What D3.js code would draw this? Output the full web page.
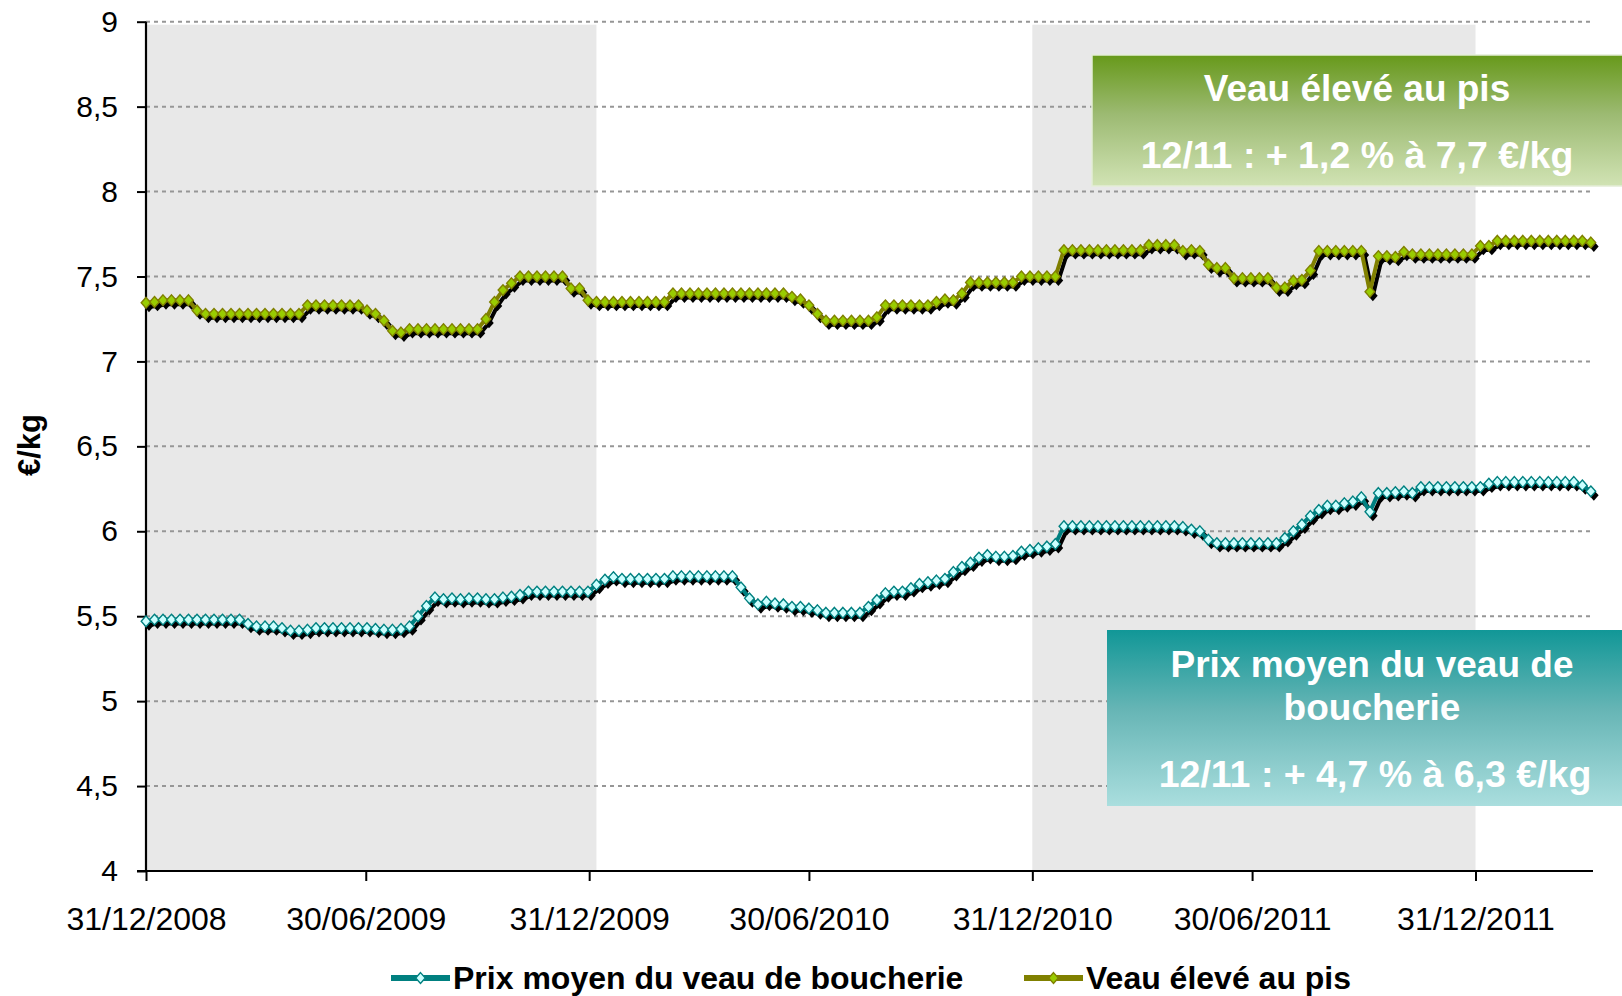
<!DOCTYPE html>
<html><head><meta charset="utf-8">
<script src="https://cdn.jsdelivr.net/npm/d3@7"></script>
<style>
body{margin:0;background:#fff;}
svg{display:block;font-family:"Liberation Sans",Arial,sans-serif;}
</style>
</head><body>
<svg id="chart" width="1622" height="996"></svg>
<script>
// ---------------- DATA ----------------
const firstWeek = "2008-12-31";          // weekly observations start here
const xTickDates = ["2008-12-31","2009-06-30","2009-12-31","2010-06-30","2010-12-31","2011-06-30","2011-12-31"];
const xTickLabels = ["31/12/2008","30/06/2009","31/12/2009","30/06/2010","31/12/2010","30/06/2011","31/12/2011"];
const yTicks = [4,4.5,5,5.5,6,6.5,7,7.5,8,8.5,9];
const yTickLabels = ["4","4,5","5","5,5","6","6,5","7","7,5","8","8,5","9"];
const yTitle = "€/kg";
const bandRanges = [["2008-12-31","2010-01-06"],["2010-12-31","2011-12-31"]];
const seriesNames = ["Prix moyen du veau de boucherie","Veau élevé au pis"];

const prixMoyen = [
 5.47,5.48,5.48,5.48,5.48,5.48,5.48,5.48,5.48,5.48,5.48,5.48,
 5.455,5.44,5.44,5.44,5.43,5.415,5.415,5.42,
 5.43,5.43,5.43,5.43,5.43,5.43,5.43,
 5.425,5.42,5.42,5.425,5.44,5.50,5.56,5.61,5.60,5.605,5.60,5.605,5.605,5.60,5.60,5.61,5.615,5.625,
 5.645,5.645,5.645,5.645,5.645,5.645,5.645,5.645,
 5.685,5.715,5.73,
 5.72,5.72,5.72,5.72,5.72,5.72,
 5.735,5.735,5.735,5.735,5.735,5.735,5.735,5.735,
 5.67,5.605,5.57,5.585,5.575,5.57,5.555,5.555,5.545,5.535,5.52,
 5.52,5.52,5.52,5.52,
 5.555,5.595,5.635,5.645,5.645,5.665,5.69,5.70,5.71,5.72,5.76,5.79,5.815,5.845,5.86,5.85,5.85,5.855,5.88,5.89,5.90,5.91,5.925,
 6.03,6.03,6.03,6.03,6.03,6.03,6.03,6.03,6.03,6.03,6.03,6.03,6.03,6.03,
 6.025,6.01,6.00,5.95,
 5.93,5.93,5.93,5.93,5.93,5.93,5.93,5.93,
 5.96,6.00,6.04,6.09,6.125,6.15,6.15,6.165,6.175,6.20,6.115,6.225,6.225,6.23,6.235,6.225,
 6.26,6.26,6.26,6.26,6.26,6.26,6.26,6.26,
 6.28,
 6.29,6.29,6.29,6.29,6.29,6.29,6.29,6.29,6.29,6.29,
 6.27,6.235
];

const veauPis = [
 7.345,7.35,7.36,7.36,7.36,7.36,7.30,7.28,
 7.28,7.28,7.28,7.28,7.28,7.28,7.28,7.28,7.28,7.28,7.28,
 7.33,7.33,7.33,7.33,7.33,7.33,7.33,
 7.30,7.28,7.24,7.18,7.17,
 7.19,7.19,7.19,7.19,7.19,7.19,7.19,7.19,7.19,
 7.25,7.35,7.42,7.46,
 7.50,7.50,7.50,7.50,7.50,7.50,
 7.43,7.43,7.36,
 7.35,7.35,7.35,7.35,7.35,7.35,7.35,7.35,7.35,
 7.40,7.40,7.40,7.40,7.40,7.40,7.40,7.40,7.40,7.40,7.40,7.40,7.40,7.40,
 7.38,7.365,7.33,7.28,7.24,
 7.24,7.24,7.24,7.24,7.24,
 7.26,7.33,
 7.33,7.33,7.33,7.33,7.33,
 7.35,7.365,7.36,7.40,7.465,
 7.465,7.465,7.465,7.465,7.465,
 7.50,7.50,7.50,7.50,7.50,
 7.655,7.655,7.655,7.655,7.655,7.655,7.655,7.655,7.655,7.655,
 7.685,7.685,7.685,7.685,
 7.65,7.655,7.65,7.57,7.55,7.55,
 7.49,7.49,7.49,7.49,7.49,
 7.435,7.435,7.475,7.48,7.535,
 7.65,7.65,7.65,7.65,7.65,7.65,
 7.41,7.62,7.62,7.615,7.645,7.63,
 7.63,7.63,7.63,7.63,7.63,7.63,7.63,
 7.68,7.68,
 7.71,7.71,7.71,7.71,7.71,7.71,7.71,7.71,7.71,7.71,7.71,7.70
];

const boxVeau = ["Veau élevé au pis","12/11 : + 1,2 % à 7,7 €/kg"];
const boxPrix = ["Prix moyen du veau de","boucherie","12/11 : + 4,7 % à 6,3 €/kg"];

// ---------------- CHART ----------------
const FONT = "'Liberation Sans', Arial, sans-serif";
const svg = d3.select("#chart");
const parse = d3.utcParse("%Y-%m-%d");
const start = parse(firstWeek);
const dates = prixMoyen.map((_, i) => d3.utcDay.offset(start, 7 * i));

const x = d3.scaleUtc()
  .domain([parse("2008-12-31"), parse("2011-12-31")])
  .range([146, 1475.5]);
const xEnd = 1593;
const y = d3.scaleLinear().domain([4, 9]).range([871, 21.7]);

// bands
svg.append("g").selectAll("rect").data(bandRanges).join("rect")
  .attr("x", d => x(parse(d[0])))
  .attr("width", d => x(parse(d[1])) - x(parse(d[0])))
  .attr("y", y(9) + 3)
  .attr("height", y(4) - y(9) - 3)
  .attr("fill", "#e8e8e8");

// gridlines
svg.append("g").selectAll("line").data(yTicks.filter(v => v > 4)).join("line")
  .attr("x1", x(parse("2008-12-31"))).attr("x2", xEnd - 3)
  .attr("y1", d => y(d)).attr("y2", d => y(d))
  .attr("stroke", "#969696").attr("stroke-width", 2)
  .attr("stroke-dasharray", "4,4");

// y axis
const yAxis = d3.axisLeft(y).tickValues(yTicks)
  .tickFormat((d, i) => yTickLabels[i]).tickSize(9).tickPadding(19);
const gy = svg.append("g").attr("transform", `translate(${x(parse("2008-12-31"))},0)`).call(yAxis);
gy.attr("font-family", FONT);
gy.select(".domain").attr("stroke", "#000").attr("stroke-width", 2.2).attr("d", `M0,${y(9)}V${y(4)}`);
gy.selectAll(".tick line").attr("stroke", "#000").attr("stroke-width", 2);
gy.selectAll(".tick text").attr("font-size", 30).attr("fill", "#000").attr("font-family", FONT);

// x axis
const xAxis = d3.axisBottom(x).tickValues(xTickDates.map(parse))
  .tickFormat((d, i) => xTickLabels[i]).tickSize(10).tickPadding(26);
const gx = svg.append("g").attr("transform", `translate(0,${y(4)})`).call(xAxis);
gx.attr("font-family", FONT);
gx.select(".domain").attr("stroke", "#000").attr("stroke-width", 2.2)
  .attr("d", `M${x(parse("2008-12-31")) - 9},0H${xEnd}`);
gx.selectAll(".tick line").attr("stroke", "#000").attr("stroke-width", 2);
gx.selectAll(".tick text").attr("font-size", 32).attr("fill", "#000").attr("font-family", FONT);

// y title
svg.append("text")
  .attr("transform", `translate(40,445) rotate(-90)`)
  .attr("text-anchor", "middle")
  .attr("font-size", 31).attr("font-weight", "bold").attr("font-family", FONT)
  .text(yTitle);

// series
const diamond = "M0,-5.4L4.8,0L0,5.4L-4.8,0Z";
const seriesDefs = [
  {name: seriesNames[0], values: prixMoyen, line: "#008080", fill: "#ccffff"},
  {name: seriesNames[1], values: veauPis, line: "#808000", fill: "#99cc00"}
];
const lineGen = d3.line().x((d, i) => x(dates[i])).y(d => y(d));

seriesDefs.forEach(s => {
  const g = svg.append("g");
  const sh = g.append("g").attr("transform", "translate(3,4)");
  sh.append("path").attr("d", lineGen(s.values)).attr("fill", "none")
    .attr("stroke", "#000").attr("stroke-width", 4).attr("stroke-linejoin", "round");
  sh.selectAll("path.m").data(s.values).join("path").attr("class", "m")
    .attr("transform", (d, i) => `translate(${x(dates[i])},${y(d)})`)
    .attr("d", diamond).attr("fill", "#000");
  g.append("path").attr("d", lineGen(s.values)).attr("fill", "none")
    .attr("stroke", s.line).attr("stroke-width", 4).attr("stroke-linejoin", "round");
  g.selectAll("path.mk").data(s.values).join("path").attr("class", "mk")
    .attr("transform", (d, i) => `translate(${x(dates[i])},${y(d)})`)
    .attr("d", diamond).attr("fill", s.fill).attr("stroke", s.line).attr("stroke-width", 1.4);
});

// annotation boxes
const defs = svg.append("defs");
const gr1 = defs.append("linearGradient").attr("id", "gGreen").attr("x1", 0).attr("y1", 0).attr("x2", 0).attr("y2", 1);
gr1.append("stop").attr("offset", "0%").attr("stop-color", "#67991a");
gr1.append("stop").attr("offset", "45%").attr("stop-color", "#9cba72");
gr1.append("stop").attr("offset", "100%").attr("stop-color", "#d1e3b4");
const gr2 = defs.append("linearGradient").attr("id", "gTeal").attr("x1", 0).attr("y1", 0).attr("x2", 0).attr("y2", 1);
gr2.append("stop").attr("offset", "0%").attr("stop-color", "#119797");
gr2.append("stop").attr("offset", "45%").attr("stop-color", "#66b5b5");
gr2.append("stop").attr("offset", "100%").attr("stop-color", "#aadede");

svg.append("rect").attr("x", 1092).attr("y", 55).attr("width", 540).attr("height", 131)
  .attr("fill", "url(#gGreen)").attr("stroke", "#e3edd6").attr("stroke-width", 1.5);
svg.append("g").selectAll("text").data(boxVeau).join("text")
  .attr("x", 1357).attr("y", (d, i) => [101, 168][i])
  .attr("text-anchor", "middle").attr("fill", "#fff").attr("font-family", FONT)
  .attr("font-size", (d, i) => [37, 37.5][i]).attr("font-weight", "bold").text(d => d);

svg.append("rect").attr("x", 1107).attr("y", 630).attr("width", 520).attr("height", 176)
  .attr("fill", "url(#gTeal)");
svg.append("g").selectAll("text").data(boxPrix).join("text")
  .attr("x", (d, i) => [1372, 1372, 1375][i]).attr("y", (d, i) => [677, 720, 787][i])
  .attr("text-anchor", "middle").attr("fill", "#fff").attr("font-family", FONT)
  .attr("font-size", (d, i) => [37, 37, 37.5][i]).attr("font-weight", "bold").text(d => d);

// legend
const legX = [391, 1024];
const lg = svg.append("g").selectAll("g").data(seriesDefs).join("g")
  .attr("transform", (d, i) => `translate(${legX[i]},978)`);
lg.append("line").attr("x1", 0).attr("x2", 59).attr("y1", 0).attr("y2", 0)
  .attr("stroke", d => d.line).attr("stroke-width", 6);
lg.append("path").attr("transform", "translate(29.5,0)").attr("d", diamond)
  .attr("fill", d => d.fill).attr("stroke", d => d.line).attr("stroke-width", 1.4);
lg.append("text").attr("x", 62).attr("y", 11).attr("font-size", 32).attr("font-weight", "bold")
  .attr("font-family", FONT).attr("fill", "#000").text(d => d.name);
</script>
</body></html>
